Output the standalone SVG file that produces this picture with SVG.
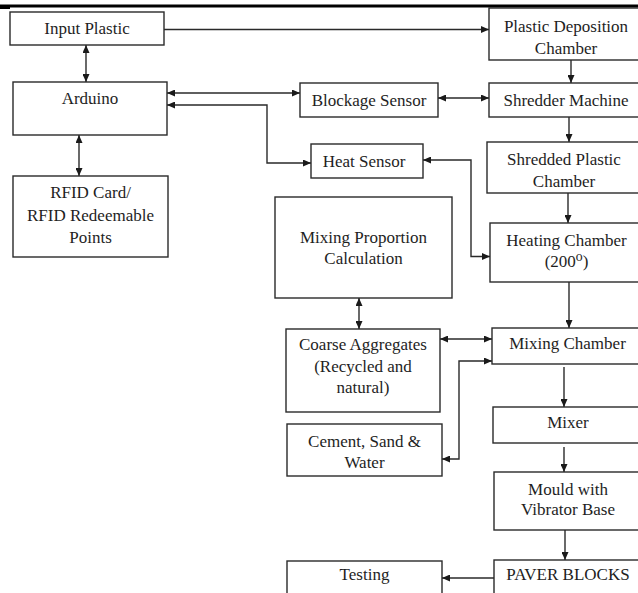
<svg xmlns="http://www.w3.org/2000/svg" width="638" height="593" viewBox="0 0 638 593">
<defs>
<marker id="ah" viewBox="0 0 8 7" refX="8" refY="3.5" markerWidth="8" markerHeight="7" markerUnits="userSpaceOnUse" orient="auto-start-reverse">
<path d="M0,0 L8,3.5 L0,7 z" fill="#1a1a1a"/>
</marker>
<style>
.box{fill:#fff;stroke:#2a2a2a;stroke-width:1.4}
.t{font-family:"Liberation Serif","DejaVu Serif",serif;font-size:17px;fill:#1e1e1e;text-anchor:middle}
.c{fill:none;stroke:#2a2a2a;stroke-width:1.4}
.e{marker-end:url(#ah)}
.b{marker-start:url(#ah);marker-end:url(#ah)}
</style>
</defs>
<rect width="638" height="593" fill="#fff"/>
<rect x="0" y="4.5" width="638" height="3" fill="#000"/>
<rect x="0" y="7" width="10" height="2" fill="#000"/>

<g id="connectors">
<path class="c e" d="M164,29.5 H489"/>
<path class="c b" d="M86,45 V82"/>
<path class="c b" d="M167,93 H300"/>
<path class="c b" d="M167,105 H267 V163 H311"/>
<path class="c b" d="M79,135 V176"/>
<path class="c b" d="M438,98 H489"/>
<path class="c e" d="M571,60 V83"/>
<path class="c e" d="M569,117 V142"/>
<path class="c b" d="M423,160 H471 V256.5 H490"/>
<path class="c e" d="M568,193 V223"/>
<path class="c e" d="M569,282 V328"/>
<path class="c b" d="M359,298 V329"/>
<path class="c b" d="M440,339 H492"/>
<path class="c b" d="M492,361 H459 V459 H442"/>
<path class="c e" d="M564,367 V407"/>
<path class="c e" d="M564,447 V472"/>
<path class="c e" d="M565,530 V560"/>
<path class="c e" d="M494,578 H442"/>
</g>

<g id="input-plastic"><rect class="box" x="10" y="12" width="154" height="33"/><text class="t" x="87" y="33.5">Input Plastic</text></g>
<g id="arduino"><rect class="box" x="13" y="82" width="154" height="53"/><text class="t" x="90" y="104">Arduino</text></g>
<g id="rfid"><rect class="box" x="13" y="176" width="155" height="81"/><text class="t" x="90.5" y="198">RFID Card/</text><text class="t" x="90.5" y="221">RFID Redeemable</text><text class="t" x="90.5" y="243">Points</text></g>
<g id="blockage-sensor"><rect class="box" x="300" y="83" width="138" height="34"/><text class="t" x="369" y="106">Blockage Sensor</text></g>
<g id="heat-sensor"><rect class="box" x="311" y="144" width="112" height="34"/><text class="t" x="364" y="167">Heat Sensor</text></g>
<g id="mixing-proportion"><rect class="box" x="275" y="197" width="177" height="101"/><text class="t" x="363.5" y="243">Mixing Proportion</text><text class="t" x="363.5" y="264">Calculation</text></g>
<g id="coarse-aggregates"><rect class="box" x="286" y="329" width="154" height="83"/><text class="t" x="363" y="350">Coarse Aggregates</text><text class="t" x="363" y="372">(Recycled and</text><text class="t" x="363" y="393">natural)</text></g>
<g id="cement"><rect class="box" x="287" y="424" width="155" height="52"/><text class="t" x="364.5" y="447">Cement, Sand &amp;</text><text class="t" x="364.5" y="468">Water</text></g>
<g id="testing"><rect class="box" x="287" y="561" width="155" height="40"/><text class="t" x="364.5" y="580">Testing</text></g>
<g id="plastic-deposition"><rect class="box" x="489" y="8" width="154" height="52"/><text class="t" x="566" y="31.5">Plastic Deposition</text><text class="t" x="566" y="54">Chamber</text></g>
<g id="shredder"><rect class="box" x="489" y="83" width="154" height="34"/><text class="t" x="566" y="106">Shredder Machine</text></g>
<g id="shredded-plastic"><rect class="box" x="487" y="142" width="156" height="51"/><text class="t" x="564" y="165">Shredded Plastic</text><text class="t" x="564" y="187">Chamber</text></g>
<g id="heating-chamber"><rect class="box" x="490" y="223" width="153" height="59"/><text class="t" x="566.5" y="246">Heating Chamber</text><text class="t" x="566.5" y="267">(200⁰)</text></g>
<g id="mixing-chamber"><rect class="box" x="492" y="328" width="151" height="36"/><text class="t" x="567.5" y="349">Mixing Chamber</text></g>
<g id="mixer"><rect class="box" x="493" y="407" width="150" height="36"/><text class="t" x="568" y="428">Mixer</text></g>
<g id="mould"><rect class="box" x="494" y="472" width="149" height="58"/><text class="t" x="568" y="495">Mould with</text><text class="t" x="568" y="515">Vibrator Base</text></g>
<g id="paver-blocks"><rect class="box" x="494" y="560" width="149" height="40"/><text class="t" x="568" y="580">PAVER BLOCKS</text></g>
</svg>
